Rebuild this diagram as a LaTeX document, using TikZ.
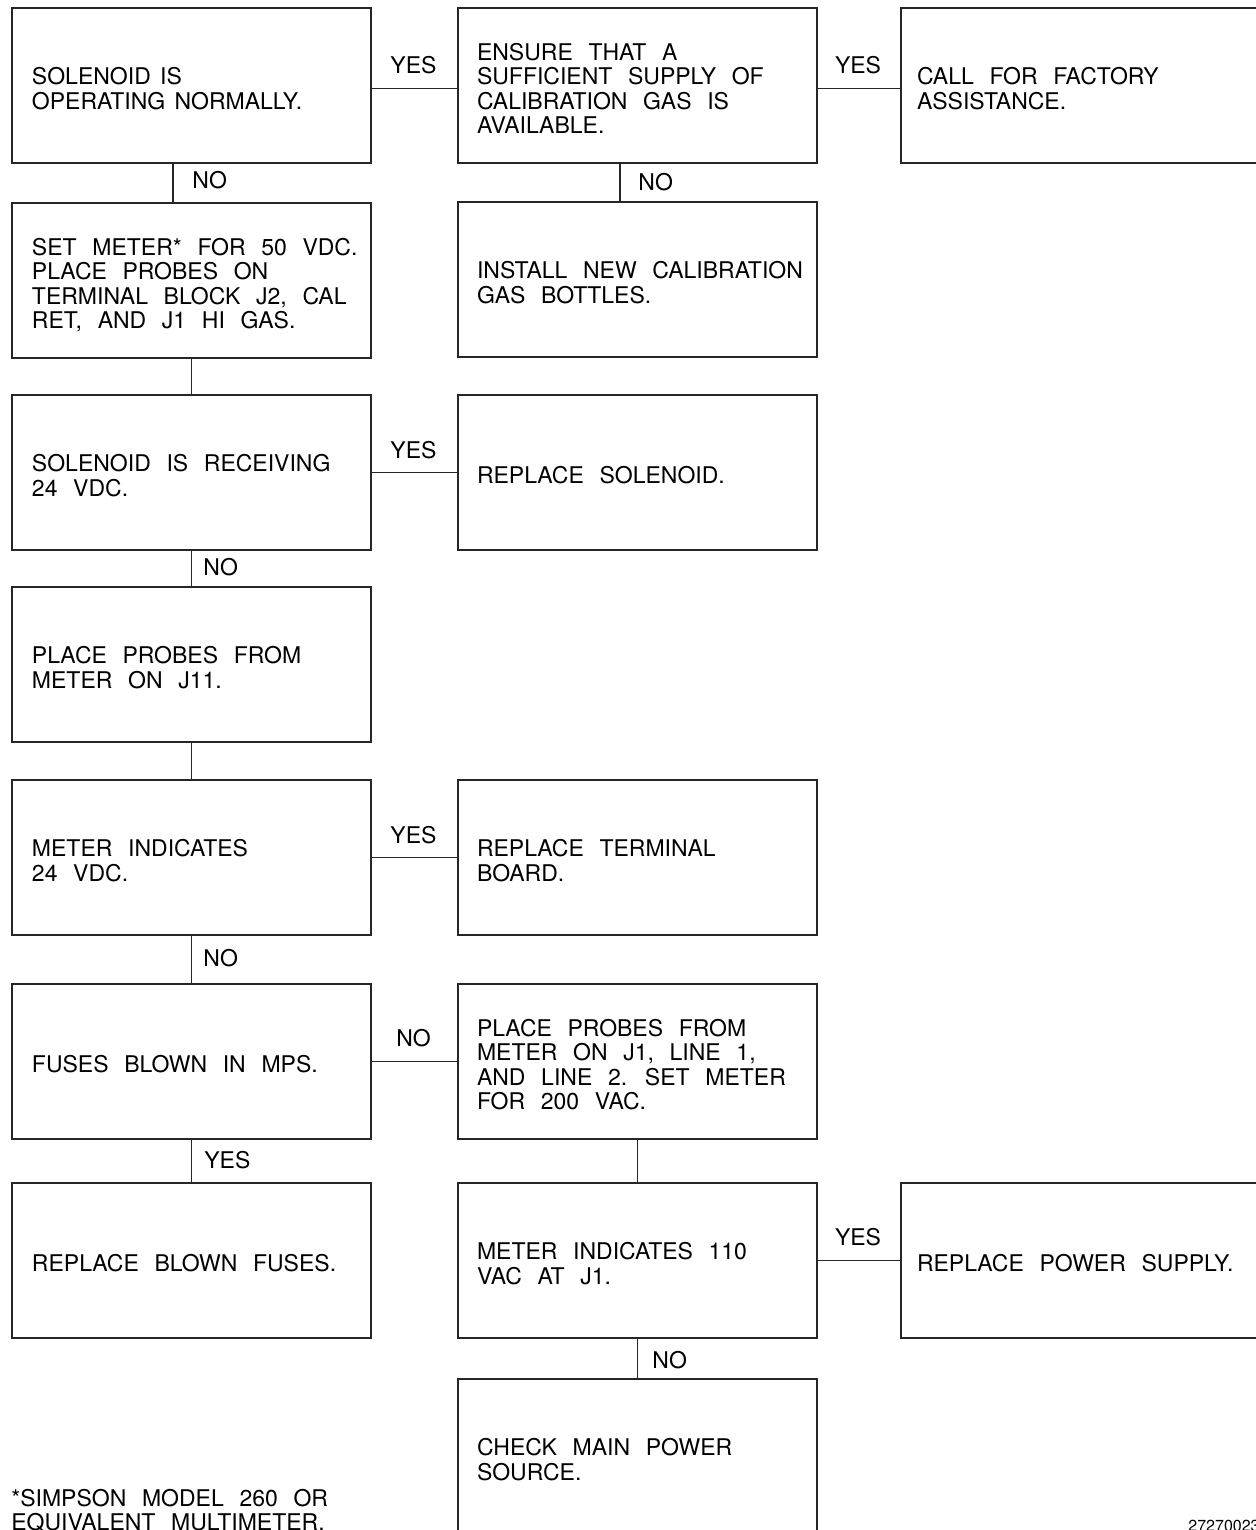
\documentclass[tikz,border=0pt]{standalone}
\usepackage{fontspec}
\setmainfont{TeX Gyre Heros}[WordSpace=2.45]
\newfontfamily\tightsp{TeX Gyre Heros}[WordSpace=1.45]
\newcommand{\boxtext}[1]{\spaceskip=0pt\xspaceskip=0pt\relax\begin{tabular}{@{}l@{}}\rule{0pt}{15pt}#1\end{tabular}}
\newcommand{\plainlines}[1]{\spaceskip=0pt\xspaceskip=0pt\relax\begin{tabular}{@{}l@{}}#1\end{tabular}}
\begin{document}
\begin{tikzpicture}[x=0.5pt,y=-0.5pt,
  box/.style={draw=black!85, line width=1pt, anchor=north west,
    minimum width=179.5pt, minimum height=77.5pt, text width=159.5pt,
    inner xsep=10pt, inner ysep=0pt, align=left,
    font=\fontsize{11.5}{12}\selectfont},
  boxb/.style={box, inner xsep=9.5pt, text width=160.5pt},
  boxc/.style={box, inner xsep=8pt, text width=163.5pt},
  link/.style={draw=black!85, line width=0.65pt},
  lbl/.style={inner sep=0pt, font=\fontsize{11.5}{12}\selectfont},
  vlbl/.style={lbl, anchor=west},
]
\useasboundingbox (0,0) rectangle (1256,1530);
\fill[white] (0,0) rectangle (1256,1530);

% boxes
\node[box]  (n1)  at (11,7)    {\tightsp\boxtext{SOLENOID IS\\OPERATING NORMALLY.}};
\node[boxb] (n2)  at (457,7)   {\boxtext{ENSURE THAT A\\SUFFICIENT SUPPLY OF\\CALIBRATION GAS IS\\AVAILABLE.}};
\node[boxc] (n3)  at (900,7)   {\boxtext{CALL FOR FACTORY\\ASSISTANCE.}};
\node[box]  (n4)  at (11,202)  {\boxtext{SET METER* FOR 50 VDC.\\PLACE PROBES ON\\TERMINAL BLOCK J2, CAL\\RET, AND J1 HI GAS.}};
\node[boxb] (n5)  at (457,201) {\boxtext{INSTALL NEW CALIBRATION\\GAS BOTTLES.}};
\node[box]  (n6)  at (11,394)  {\boxtext{SOLENOID IS RECEIVING\\24 VDC.}};
\node[boxb] (n7)  at (457,394) {\boxtext{REPLACE SOLENOID.}};
\node[box]  (n8)  at (11,586)  {\boxtext{PLACE PROBES FROM\\METER ON J11.}};
\node[box]  (n9)  at (11,779)  {\boxtext{METER INDICATES\\24 VDC.}};
\node[boxb] (n10) at (457,779) {\boxtext{REPLACE TERMINAL\\BOARD.}};
\node[box]  (n11) at (11,983)  {\boxtext{FUSES BLOWN IN MPS.}};
\node[boxb] (n12) at (457,983) {\boxtext{PLACE PROBES FROM\\METER ON J1, LINE 1,\\AND LINE 2. SET METER\\FOR 200 VAC.}};
\node[box]  (n13) at (11,1182) {\boxtext{REPLACE BLOWN FUSES.}};
\node[boxb] (n14) at (457,1182){\boxtext{METER INDICATES 110\\VAC AT J1.}};
\node[boxc] (n15) at (900,1182){\boxtext{REPLACE POWER SUPPLY.}};
\node[boxb] (n16) at (457,1378){\boxtext{CHECK MAIN POWER\\SOURCE.}};

% horizontal connectors
\draw[link] ([yshift=-1.5pt]n1.east) -- ([yshift=-1.5pt]n2.west);
\draw[link] ([yshift=-1.5pt]n2.east) -- ([yshift=-1.5pt]n3.west);
\draw[link] (n6.east) -- (n7.west);
\draw[link] (n9.east) -- (n10.west);
\draw[link] (n11.east) -- (n12.west);
\draw[link] (n14.east) -- (n15.west);

% vertical connectors
\draw[link] ([xshift=-9.25pt]n1.south) -- ([xshift=-9.25pt]n1.south |- n4.north);
\draw[link] ([xshift=-8.75pt]n2.south) -- ([xshift=-8.75pt]n2.south |- n5.north);
\draw[link] (n4.south) -- (n6.north);
\draw[link] (n6.south) -- (n8.north);
\draw[link] (n8.south) -- (n9.north);
\draw[link] (n9.south) -- (n11.north);
\draw[link] (n11.south) -- (n13.north);
\draw[link] (n12.south) -- (n14.north);
\draw[link] (n14.south) -- (n16.north);

% labels on horizontal connectors
\node[lbl] (l1) at (413.5,65)   {YES};
\node[lbl] (l2) at (858,65)     {YES};
\node[lbl] (l3) at (413.5,450)  {YES};
\node[lbl] (l4) at (413.5,835)  {YES};
\node[lbl] (l5) at (413.5,1038) {NO};
\node[lbl] (l6) at (858,1237)   {YES};

% labels on vertical connectors
\node[vlbl] (v1) at (192,180)  {NO};
\node[vlbl] (v2) at (638,182)  {NO};
\node[vlbl] (v3) at (203,567)  {NO};
\node[vlbl] (v4) at (203,958)  {NO};
\node[vlbl] (v5) at (204,1160) {YES};
\node[vlbl] (v6) at (652,1360) {NO};

% footnote and figure number
\node[lbl, anchor=north west] (note) at (11,1489) {\plainlines{*SIMPSON MODEL 260 OR\\EQUIVALENT MULTIMETER.}};
\node[inner sep=0pt, anchor=base west, font=\fontsize{8}{9}\selectfont] (fig) at (1188,1531) {27270023};
\end{tikzpicture}
\end{document}
